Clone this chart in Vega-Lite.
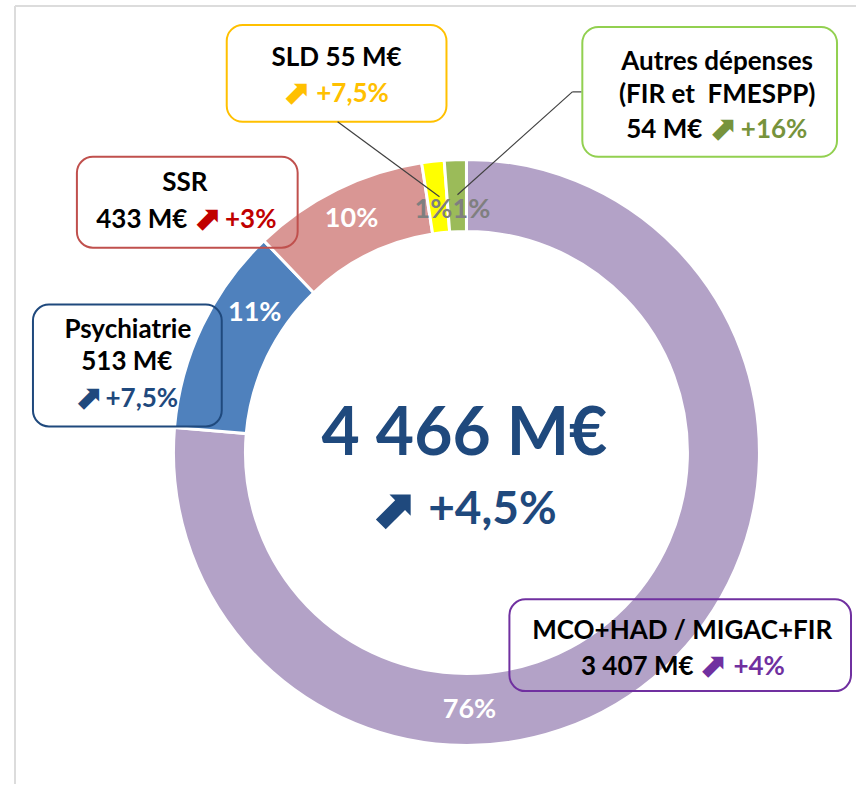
{
  "$schema": "https://vega.github.io/schema/vega-lite/v6.json",
  "width": 857,
  "height": 785,
  "padding": 0,
  "autosize": {"type": "fit", "contains": "padding"},
  "background": "white",
  "config": {"view": {"stroke": null}},
  "datasets": {
    "segments": [
      {"name": "MCO+HAD / MIGAC+FIR", "value": 3407, "ord": 1},
      {"name": "Psychiatrie", "value": 513, "ord": 2},
      {"name": "SSR", "value": 433, "ord": 3},
      {"name": "SLD", "value": 55, "ord": 4},
      {"name": "Autres dépenses", "value": 54, "ord": 5}
    ],
    "boxes": [
      {"series": "SLD", "x": 227, "x2": 447, "y": 25, "y2": 122},
      {"series": "Autres", "x": 583, "x2": 838, "y": 27, "y2": 157},
      {"series": "SSR", "x": 77, "x2": 298, "y": 157, "y2": 248},
      {"series": "Psy", "x": 33, "x2": 222, "y": 305, "y2": 427},
      {"series": "MCO", "x": 510, "x2": 852, "y": 600, "y2": 692}
    ],
    "leaders": [
      {"x": 338, "y": 122, "x2": 440, "y2": 197},
      {"x": 582, "y": 92, "x2": 573, "y2": 92},
      {"x": 573, "y": 92, "x2": 458, "y2": 195}
    ],
    "frame": [
      {"x": 15, "y": 6, "x2": 857, "y2": 6},
      {"x": 15, "y": 6, "x2": 15, "y2": 785}
    ],
    "callouts": [
      {"text": "SLD 55 M€", "tone": "black", "x": 337, "y": 58},
      {"text": "+7,5%", "tone": "SLD", "x": 353, "y": 94},
      {"text": "Autres dépenses", "tone": "black", "x": 718, "y": 62},
      {"text": "(FIR et\u00a0 FMESPP)", "tone": "black", "x": 718, "y": 95},
      {"text": "54 M€", "tone": "black", "x": 665, "y": 130},
      {"text": "+16%", "tone": "Autres", "x": 775, "y": 130},
      {"text": "SSR", "tone": "black", "x": 185, "y": 183},
      {"text": "433 M€", "tone": "black", "x": 142, "y": 220},
      {"text": "+3%", "tone": "SSR", "x": 251, "y": 220},
      {"text": "Psychiatrie", "tone": "black", "x": 128, "y": 330},
      {"text": "513 M€", "tone": "black", "x": 127, "y": 362},
      {"text": "+7,5%", "tone": "Psy", "x": 142, "y": 400},
      {"text": "MCO+HAD / MIGAC+FIR", "tone": "black", "x": 683, "y": 632},
      {"text": "3 407 M€", "tone": "black", "x": 638, "y": 668},
      {"text": "+4%", "tone": "MCO", "x": 760, "y": 668}
    ],
    "arrows": [
      {"text": "⬈", "tone": "SLD", "x": 296, "y": 94, "level": "small"},
      {"text": "⬈", "tone": "Autres", "x": 723, "y": 130, "level": "small"},
      {"text": "⬈", "tone": "SSR", "x": 207, "y": 220, "level": "small"},
      {"text": "⬈", "tone": "Psy", "x": 88, "y": 400, "level": "small"},
      {"text": "⬈", "tone": "MCO", "x": 713, "y": 668, "level": "small"},
      {"text": "⬈", "tone": "total", "x": 393, "y": 512, "level": "big"}
    ],
    "pcts": [
      {"text": "76%", "tone": "white", "x": 470, "y": 711},
      {"text": "11%", "tone": "white", "x": 255, "y": 313},
      {"text": "10%", "tone": "white", "x": 352, "y": 219},
      {"text": "1%", "tone": "gray", "x": 434, "y": 210},
      {"text": "1%", "tone": "gray", "x": 472, "y": 210}
    ],
    "total": [
      {"text": "4 466 M€", "tone": "total", "x": 465, "y": 436, "level": "main"},
      {"text": "+4,5%", "tone": "total", "x": 493, "y": 511, "level": "sub"}
    ]
  },
  "layer": [
    {
      "data": {"name": "frame"},
      "mark": {"type": "rule", "color": "#DCDCDC", "strokeWidth": 2},
      "encoding": {
        "x": {"field": "x", "type": "quantitative", "scale": {"domain": [0, 857], "nice": false, "zero": false}, "axis": null},
        "x2": {"field": "x2"},
        "y": {"field": "y", "type": "quantitative", "scale": {"domain": [0, 785], "nice": false, "zero": false, "reverse": true}, "axis": null},
        "y2": {"field": "y2"}
      }
    },
    {
      "data": {"name": "segments"},
      "mark": {"type": "arc", "radius": 293, "radius2": 221, "stroke": "white", "strokeWidth": 3},
      "encoding": {
        "theta": {"field": "value", "type": "quantitative", "stack": true},
        "order": {"field": "ord", "type": "quantitative"},
        "fill": {
          "field": "name", "type": "nominal", "legend": null,
          "scale": {
            "domain": ["MCO+HAD / MIGAC+FIR", "Psychiatrie", "SSR", "SLD", "Autres dépenses"],
            "range": ["#B3A2C7", "#4F81BD", "#D99694", "#FFFF00", "#9BBB59"]
          }
        },
        "x": {"datum": 467, "type": "quantitative", "scale": {"domain": [0, 857], "nice": false, "zero": false}, "axis": null},
        "y": {"datum": 453, "type": "quantitative", "scale": {"domain": [0, 785], "nice": false, "zero": false, "reverse": true}, "axis": null}
      }
    },
    {
      "data": {"name": "boxes"},
      "mark": {"type": "rect", "fillOpacity": 0, "fill": "white", "strokeWidth": 2, "cornerRadius": 16},
      "encoding": {
        "x": {"field": "x", "type": "quantitative", "scale": {"domain": [0, 857], "nice": false, "zero": false}, "axis": null},
        "x2": {"field": "x2"},
        "y": {"field": "y", "type": "quantitative", "scale": {"domain": [0, 785], "nice": false, "zero": false, "reverse": true}, "axis": null},
        "y2": {"field": "y2"},
        "stroke": {
          "field": "series", "type": "nominal", "legend": null,
          "scale": {"domain": ["SLD", "Autres", "SSR", "Psy", "MCO"], "range": ["#FFC000", "#92D050", "#C0504D", "#1F497D", "#7030A0"]}
        }
      }
    },
    {
      "data": {"name": "leaders"},
      "mark": {"type": "rule", "color": "#404040", "strokeWidth": 1.2},
      "encoding": {
        "x": {"field": "x", "type": "quantitative", "scale": {"domain": [0, 857], "nice": false, "zero": false}, "axis": null},
        "x2": {"field": "x2"},
        "y": {"field": "y", "type": "quantitative", "scale": {"domain": [0, 785], "nice": false, "zero": false, "reverse": true}, "axis": null},
        "y2": {"field": "y2"}
      }
    },
    {
      "data": {"name": "callouts"},
      "mark": {"type": "text", "font": "Lato", "fontWeight": "bold", "fontSize": 26, "align": "center", "baseline": "middle"},
      "encoding": {
        "x": {"field": "x", "type": "quantitative", "scale": {"domain": [0, 857], "nice": false, "zero": false}, "axis": null},
        "y": {"field": "y", "type": "quantitative", "scale": {"domain": [0, 785], "nice": false, "zero": false, "reverse": true}, "axis": null},
        "text": {"field": "text"},
        "color": {
          "field": "tone", "type": "nominal", "legend": null,
          "scale": {
            "domain": ["black", "SLD", "Autres", "SSR", "Psy", "MCO", "total", "white", "gray"],
            "range": ["#000000", "#FFC000", "#77933C", "#C00000", "#1F497D", "#7030A0", "#1F497D", "#FFFFFF", "#7F7F7F"]
          }
        }
      }
    },
    {
      "data": {"name": "arrows"},
      "transform": [{"filter": "datum.level === 'small'"}],
      "mark": {"type": "text", "font": "DejaVu Sans", "fontWeight": "bold", "fontSize": 34, "align": "center", "baseline": "middle"},
      "encoding": {
        "x": {"field": "x", "type": "quantitative", "scale": {"domain": [0, 857], "nice": false, "zero": false}, "axis": null},
        "y": {"field": "y", "type": "quantitative", "scale": {"domain": [0, 785], "nice": false, "zero": false, "reverse": true}, "axis": null},
        "text": {"field": "text"},
        "color": {
          "field": "tone", "type": "nominal", "legend": null,
          "scale": {
            "domain": ["black", "SLD", "Autres", "SSR", "Psy", "MCO", "total", "white", "gray"],
            "range": ["#000000", "#FFC000", "#77933C", "#C00000", "#1F497D", "#7030A0", "#1F497D", "#FFFFFF", "#7F7F7F"]
          }
        }
      }
    },
    {
      "data": {"name": "arrows"},
      "transform": [{"filter": "datum.level === 'big'"}],
      "mark": {"type": "text", "font": "DejaVu Sans", "fontWeight": "bold", "fontSize": 56, "align": "center", "baseline": "middle"},
      "encoding": {
        "x": {"field": "x", "type": "quantitative", "scale": {"domain": [0, 857], "nice": false, "zero": false}, "axis": null},
        "y": {"field": "y", "type": "quantitative", "scale": {"domain": [0, 785], "nice": false, "zero": false, "reverse": true}, "axis": null},
        "text": {"field": "text"},
        "color": {
          "field": "tone", "type": "nominal", "legend": null,
          "scale": {
            "domain": ["black", "SLD", "Autres", "SSR", "Psy", "MCO", "total", "white", "gray"],
            "range": ["#000000", "#FFC000", "#77933C", "#C00000", "#1F497D", "#7030A0", "#1F497D", "#FFFFFF", "#7F7F7F"]
          }
        }
      }
    },
    {
      "data": {"name": "pcts"},
      "mark": {"type": "text", "font": "Lato", "fontWeight": "bold", "fontSize": 27, "align": "center", "baseline": "middle"},
      "encoding": {
        "x": {"field": "x", "type": "quantitative", "scale": {"domain": [0, 857], "nice": false, "zero": false}, "axis": null},
        "y": {"field": "y", "type": "quantitative", "scale": {"domain": [0, 785], "nice": false, "zero": false, "reverse": true}, "axis": null},
        "text": {"field": "text"},
        "color": {
          "field": "tone", "type": "nominal", "legend": null,
          "scale": {
            "domain": ["black", "SLD", "Autres", "SSR", "Psy", "MCO", "total", "white", "gray"],
            "range": ["#000000", "#FFC000", "#77933C", "#C00000", "#1F497D", "#7030A0", "#1F497D", "#FFFFFF", "#7F7F7F"]
          }
        }
      }
    },
    {
      "data": {"name": "total"},
      "transform": [{"filter": "datum.level === 'main'"}],
      "mark": {"type": "text", "font": "Lato", "fontWeight": "bold", "fontSize": 66, "align": "center", "baseline": "middle"},
      "encoding": {
        "x": {"field": "x", "type": "quantitative", "scale": {"domain": [0, 857], "nice": false, "zero": false}, "axis": null},
        "y": {"field": "y", "type": "quantitative", "scale": {"domain": [0, 785], "nice": false, "zero": false, "reverse": true}, "axis": null},
        "text": {"field": "text"},
        "color": {
          "field": "tone", "type": "nominal", "legend": null,
          "scale": {
            "domain": ["black", "SLD", "Autres", "SSR", "Psy", "MCO", "total", "white", "gray"],
            "range": ["#000000", "#FFC000", "#77933C", "#C00000", "#1F497D", "#7030A0", "#1F497D", "#FFFFFF", "#7F7F7F"]
          }
        }
      }
    },
    {
      "data": {"name": "total"},
      "transform": [{"filter": "datum.level === 'sub'"}],
      "mark": {"type": "text", "font": "Lato", "fontWeight": "bold", "fontSize": 46, "align": "center", "baseline": "middle"},
      "encoding": {
        "x": {"field": "x", "type": "quantitative", "scale": {"domain": [0, 857], "nice": false, "zero": false}, "axis": null},
        "y": {"field": "y", "type": "quantitative", "scale": {"domain": [0, 785], "nice": false, "zero": false, "reverse": true}, "axis": null},
        "text": {"field": "text"},
        "color": {
          "field": "tone", "type": "nominal", "legend": null,
          "scale": {
            "domain": ["black", "SLD", "Autres", "SSR", "Psy", "MCO", "total", "white", "gray"],
            "range": ["#000000", "#FFC000", "#77933C", "#C00000", "#1F497D", "#7030A0", "#1F497D", "#FFFFFF", "#7F7F7F"]
          }
        }
      }
    }
  ]
}
